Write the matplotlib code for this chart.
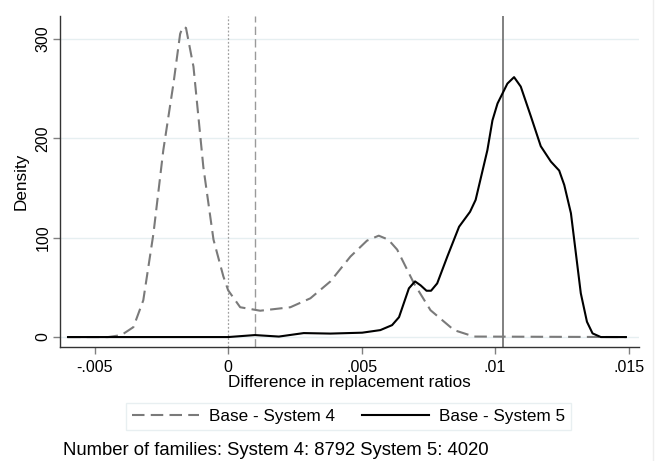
import matplotlib
matplotlib.use("Agg")
import matplotlib.pyplot as plt
from matplotlib.lines import Line2D

plt.rcParams['font.family'] = ['Liberation Sans', 'DejaVu Sans']

# kernel density of the difference in replacement ratios
sys4_x = [-0.0060, -0.0045, -0.0040, -0.00355, -0.00318, -0.0028, -0.00243,
          -0.00205, -0.0018, -0.0017, -0.00158, -0.0013, -0.00093, -0.00055,
          -0.00018, 0.0, 0.00045, 0.0012, 0.00233, 0.00308, 0.00383, 0.00458,
          0.0052, 0.00564, 0.006, 0.00633, 0.00696, 0.00758, 0.00846, 0.00921,
          0.0149]
sys4_y = [0, 0, 2, 10, 37, 104, 188, 255, 305, 312, 311, 272, 171, 98,
          61, 47, 30, 26.5, 30, 39, 56, 81, 97, 102, 98, 88, 54, 27, 7, 0.5, 0]

sys5_x = [-0.0060, 0.0, 0.001, 0.0019, 0.00283, 0.00383, 0.00502, 0.0057,
          0.00614, 0.0064, 0.00677, 0.0070, 0.00721, 0.00743, 0.0076, 0.00783,
          0.00821, 0.00865, 0.00906, 0.00927, 0.00971, 0.0099, 0.01009,
          0.01046, 0.01071, 0.01096, 0.01134, 0.01171, 0.01209, 0.0124,
          0.01259, 0.01284, 0.01321, 0.01344, 0.01365, 0.01396, 0.0149]
sys5_y = [0, 0, 2, 0.5, 4, 3.5, 4.4, 7, 12, 20, 49, 56, 52, 46.6, 46.6, 54,
          81, 111, 126, 138, 188, 218, 235, 255, 261.5, 252, 222, 192, 176.5,
          167.5, 153, 124.6, 44, 15.4, 3.7, 0, 0]

vline_zero = 0.0
vline_sys4 = 0.001
vline_sys5 = 0.0103

xticks = [-0.005, 0, 0.005, 0.01, 0.015]
xticklabels = ['-.005', '0', '.005', '.01', '.015']
yticks = [0, 100, 200, 300]

n_sys4 = 8792
n_sys5 = 4020

fig = plt.figure(figsize=(6.6, 4.61), dpi=100)
ax = fig.add_axes([60 / 660, 1 - 347 / 461, 579 / 660, 331 / 461])

ax.set_xlim(-0.0063, 0.01539)
ax.set_ylim(-10, 323)

for y in yticks:
    ax.axhline(y, color='#e6eff1', lw=1, zorder=0)

ax.axvline(vline_zero, color='#a0a0a0', lw=0.9, ls=(0, (1.5, 1.5)), zorder=1)
ax.axvline(vline_sys4, color='#9a9a9a', lw=1.0, ls=(0, (6, 3)), zorder=1)
ax.axvline(vline_sys5, color='#808080', lw=1.4, zorder=1)

ax.plot(sys4_x, sys4_y, color='#7a7a7a', lw=1.5, ls=(0, (6, 3)), zorder=2)
ax.plot(sys5_x, sys5_y, color='black', lw=1.5, zorder=3)

ax.set_xticks(xticks)
ax.set_xticklabels(xticklabels)
ax.set_yticks(yticks)
ax.set_yticklabels([str(v) for v in yticks], rotation=90, va='center')
ax.tick_params(axis='both', length=5, width=1, color='#808080',
               labelsize=11.5)
ax.tick_params(axis='x', pad=4)
ax.tick_params(axis='y', pad=2)

for side in ['top', 'right']:
    ax.spines[side].set_visible(False)
for side in ['left', 'bottom']:
    ax.spines[side].set_color('#333333')
    ax.spines[side].set_linewidth(1.0)

ax.set_xlabel('Difference in replacement ratios', fontsize=12.3, labelpad=0)
ax.set_ylabel('Density', fontsize=12.3, labelpad=5)

handles = [Line2D([], [], color='#7a7a7a', lw=1.5, ls=(0, (6, 3))),
           Line2D([], [], color='black', lw=1.5)]
leg = fig.legend(handles, ['Base - System 4', 'Base - System 5'], ncol=2,
                 loc='center', bbox_to_anchor=(348.5 / 660, 1 - 416.5 / 461),
                 fontsize=12.3, frameon=True, fancybox=False,
                 handlelength=3.9, handletextpad=0.6, columnspacing=1.6,
                 borderpad=0.35)
leg.get_frame().set_edgecolor('#e3ecee')
leg.get_frame().set_linewidth(1.0)

fig.text(63 / 660, 1 - 450 / 461,
         f'Number of families: System 4: {n_sys4} System 5: {n_sys5}',
         fontsize=13.3, va='center', ha='left')

fig.add_artist(Line2D([653 / 660, 653 / 660], [0, 1], color='#eeeeee', lw=1))

fig.savefig('out.png', dpi=100)
